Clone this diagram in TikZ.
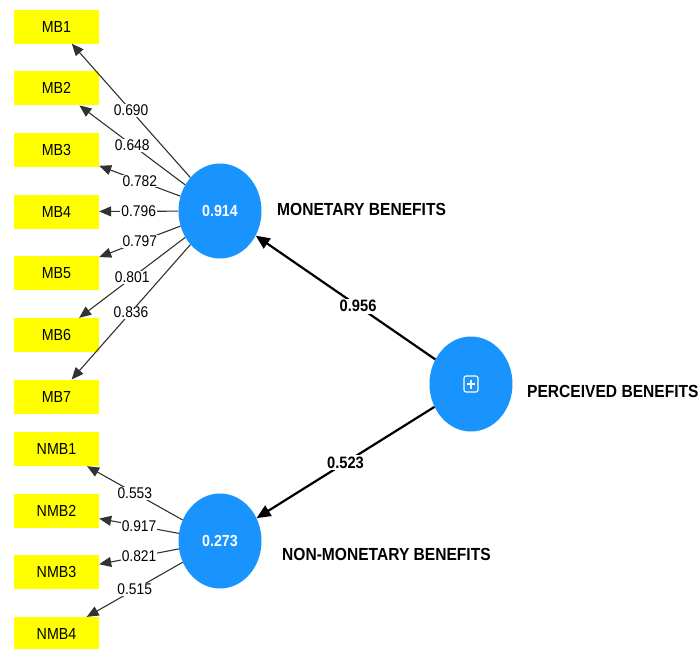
\documentclass[tikz,border=0pt]{standalone}
\usepackage{fontspec}
\setmainfont[FakeStretch=0.89]{Liberation Sans}
\usetikzlibrary{arrows.meta,shapes.geometric}
\definecolor{lvblue}{RGB}{25,148,255}
\definecolor{indyellow}{RGB}{255,255,0}
\definecolor{loadgray}{RGB}{50,50,50}
\begin{document}
\begin{tikzpicture}[x=1pt,y=-1pt,
  indicator/.style={fill=indyellow, minimum width=85pt, minimum height=34pt,
    inner sep=0pt, font=\fontsize{16}{19}\selectfont},
  latent/.style={ellipse, fill=lvblue, minimum width=83pt, minimum height=95pt,
    inner sep=0pt, text=white, font=\bfseries\fontsize{16}{19}\selectfont},
  conlabel/.style={anchor=west, inner sep=0pt, font=\bfseries\fontsize{17.5}{21}\selectfont},
  loading/.style={draw=loadgray, line width=1.1pt, -{Triangle[length=12pt,width=10pt]}},
  loadlabel/.style={fill=white, inner sep=1pt, font=\fontsize{15.5}{18}\selectfont},
  pathedge/.style={draw=black, line width=2.2pt, -{Triangle[length=14pt,width=12pt]}},
  pathlabel/.style={fill=white, inner sep=1.5pt, font=\bfseries\fontsize{16.5}{19}\selectfont}]

\useasboundingbox[fill=white] (0,0) rectangle (700,648);

% indicators
\node[indicator] (MB1) at (56.5,26.5) {MB1};
\node[indicator] (MB2) at (56.5,88.2) {MB2};
\node[indicator] (MB3) at (56.5,149.9) {MB3};
\node[indicator] (MB4) at (56.5,211.6) {MB4};
\node[indicator] (MB5) at (56.5,273.3) {MB5};
\node[indicator] (MB6) at (56.5,335) {MB6};
\node[indicator] (MB7) at (56.5,396.7) {MB7};
\node[indicator] (NMB1) at (56.5,449) {NMB1};
\node[indicator] (NMB2) at (56.5,510.7) {NMB2};
\node[indicator] (NMB3) at (56.5,572.4) {NMB3};
\node[indicator] (NMB4) at (56.5,634.1) {NMB4};

% latent variables
\node[latent] (MB) at (220,211) {0.914};
\node[latent] (NMB) at (220,541) {0.273};
\node[latent] (PB) at (471,384) {};
\node[draw=white, rounded corners=2pt, minimum width=14pt, minimum height=16pt,
  inner sep=0pt, line width=1.1pt] (PBicon) at (PB) {};
\draw[white, line width=1.1pt] (PBicon.center) +(-4,0) -- +(4,0)
  (PBicon.center) +(0,-4.5) -- +(0,4.5);

% construct names
\node[conlabel] (MBname) at (277,209) {MONETARY BENEFITS};
\node[conlabel] (NMBname) at (282,554) {NON-MONETARY BENEFITS};
\node[conlabel] (PBname) at (527,391) {PERCEIVED BENEFITS};

% outer loadings
\draw[loading] (MB) -- node[loadlabel] {0.690} (MB1);
\draw[loading] (MB) -- node[loadlabel] {0.648} (MB2);
\draw[loading] (MB) -- node[loadlabel] {0.782} (MB3);
\draw[loading] (MB) -- node[loadlabel] {0.796} (MB4);
\draw[loading] (MB) -- node[loadlabel] {0.797} (MB5);
\draw[loading] (MB) -- node[loadlabel] {0.801} (MB6);
\draw[loading] (MB) -- node[loadlabel] {0.836} (MB7);
\draw[loading] (NMB) -- node[loadlabel] {0.553} (NMB1);
\draw[loading] (NMB) -- node[loadlabel] {0.917} (NMB2);
\draw[loading] (NMB) -- node[loadlabel] {0.821} (NMB3);
\draw[loading] (NMB) -- node[loadlabel] {0.515} (NMB4);

% path coefficients
\draw[pathedge] (PB) -- node[pathlabel, pos=0.43] {0.956} (MB);
\draw[pathedge] (PB) -- node[pathlabel, pos=0.5] {0.523} (NMB);
\end{tikzpicture}
\end{document}
